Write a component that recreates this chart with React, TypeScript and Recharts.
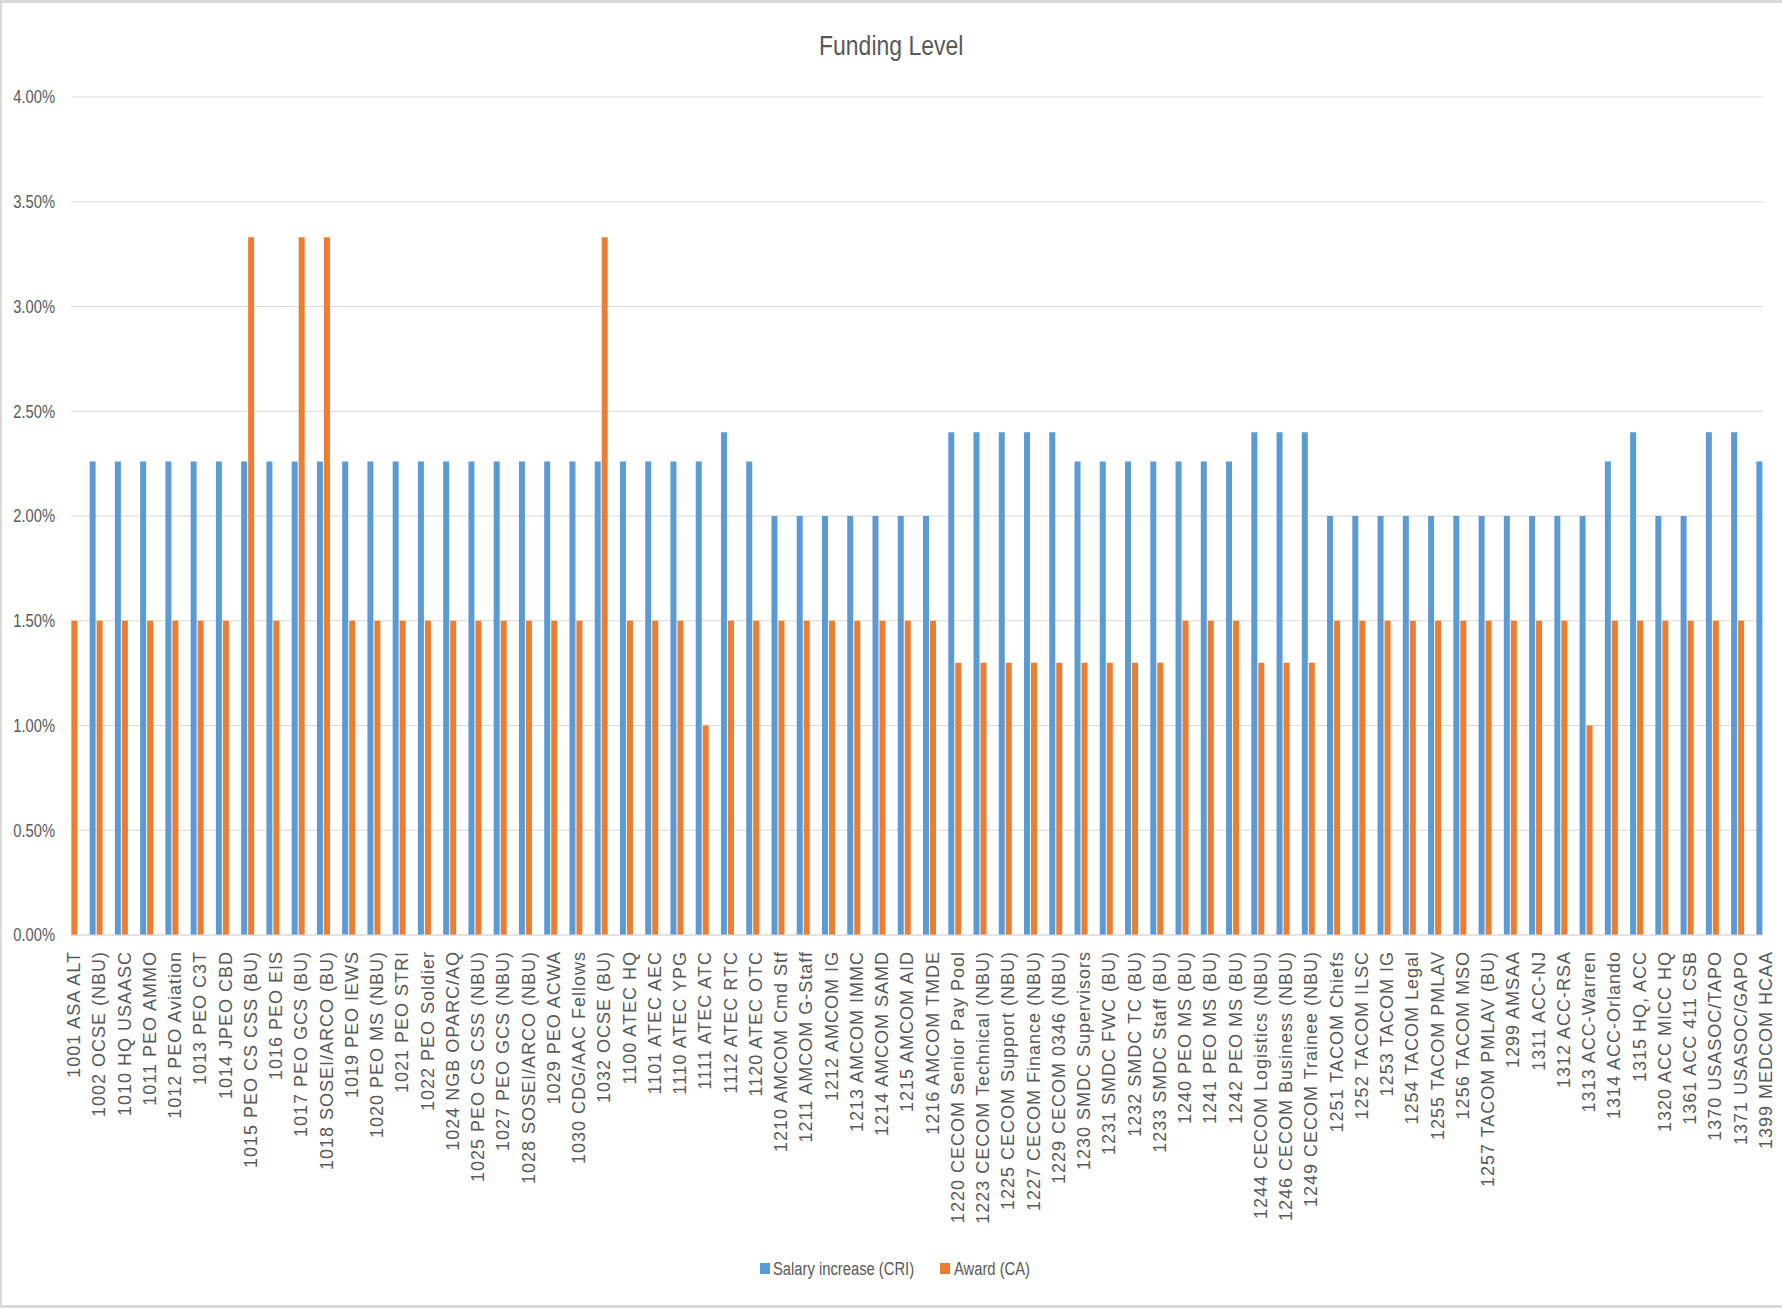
import React from 'react';
import { BarChart, Bar, XAxis, YAxis, CartesianGrid, Legend } from 'recharts';

const categories = [
  '1001 ASA ALT', '1002 OCSE (NBU)', '1010 HQ USAASC', '1011 PEO AMMO', '1012 PEO Aviation',
  '1013 PEO C3T', '1014 JPEO CBD', '1015 PEO CS CSS (BU)', '1016 PEO EIS', '1017 PEO GCS (BU)',
  '1018 SOSEI/ARCO (BU)', '1019 PEO IEWS', '1020 PEO MS (NBU)', '1021 PEO STRI', '1022 PEO Soldier',
  '1024 NGB OPARC/AQ', '1025 PEO CS CSS (NBU)', '1027 PEO GCS (NBU)', '1028 SOSEI/ARCO (NBU)', '1029 PEO ACWA',
  '1030 CDG/AAC Fellows', '1032 OCSE (BU)', '1100 ATEC HQ', '1101 ATEC AEC', '1110 ATEC YPG',
  '1111 ATEC ATC', '1112 ATEC RTC', '1120 ATEC OTC', '1210 AMCOM Cmd Stf', '1211 AMCOM G-Staff',
  '1212 AMCOM IG', '1213 AMCOM IMMC', '1214 AMCOM SAMD', '1215 AMCOM AID', '1216 AMCOM TMDE',
  '1220 CECOM Senior Pay Pool', '1223 CECOM Technical (NBU)', '1225 CECOM Support (NBU)', '1227 CECOM Finance (NBU)', '1229 CECOM 0346 (NBU)',
  '1230 SMDC Supervisors', '1231 SMDC FWC (BU)', '1232 SMDC TC (BU)', '1233 SMDC Staff (BU)', '1240 PEO MS (BU)',
  '1241 PEO MS (BU)', '1242 PEO MS (BU)', '1244 CECOM Logistics (NBU)', '1246 CECOM Business (NBU)', '1249 CECOM Trainee (NBU)',
  '1251 TACOM Chiefs', '1252 TACOM ILSC', '1253 TACOM IG', '1254 TACOM Legal', '1255 TACOM PMLAV',
  '1256 TACOM MSO', '1257 TACOM PMLAV (BU)', '1299 AMSAA', '1311 ACC-NJ', '1312 ACC-RSA',
  '1313 ACC-Warren', '1314 ACC-Orlando', '1315 HQ, ACC', '1320 ACC MICC HQ', '1361 ACC 411 CSB',
  '1370 USASOC/TAPO', '1371 USASOC/GAPO', '1399 MEDCOM HCAA',
];

// percent values
const salaryIncrease = [
  0, 2.26, 2.26, 2.26, 2.26, 2.26, 2.26, 2.26, 2.26, 2.26,
  2.26, 2.26, 2.26, 2.26, 2.26, 2.26, 2.26, 2.26, 2.26, 2.26,
  2.26, 2.26, 2.26, 2.26, 2.26, 2.26, 2.4, 2.26, 2.0, 2.0,
  2.0, 2.0, 2.0, 2.0, 2.0, 2.4, 2.4, 2.4, 2.4, 2.4,
  2.26, 2.26, 2.26, 2.26, 2.26, 2.26, 2.26, 2.4, 2.4, 2.4,
  2.0, 2.0, 2.0, 2.0, 2.0, 2.0, 2.0, 2.0, 2.0, 2.0,
  2.0, 2.26, 2.4, 2.0, 2.0, 2.4, 2.4, 2.26,
];

const award = [
  1.5, 1.5, 1.5, 1.5, 1.5, 1.5, 1.5, 3.33, 1.5, 3.33,
  3.33, 1.5, 1.5, 1.5, 1.5, 1.5, 1.5, 1.5, 1.5, 1.5,
  1.5, 3.33, 1.5, 1.5, 1.5, 1.0, 1.5, 1.5, 1.5, 1.5,
  1.5, 1.5, 1.5, 1.5, 1.5, 1.3, 1.3, 1.3, 1.3, 1.3,
  1.3, 1.3, 1.3, 1.3, 1.5, 1.5, 1.5, 1.3, 1.3, 1.3,
  1.5, 1.5, 1.5, 1.5, 1.5, 1.5, 1.5, 1.5, 1.5, 1.5,
  1.0, 1.5, 1.5, 1.5, 1.5, 1.5, 1.5, 0,
];

const yTicks = [0, 0.5, 1, 1.5, 2, 2.5, 3, 3.5, 4];

const BLUE = '#5b9bd5';
const ORANGE = '#ed7d31';
const GRAY = '#595959';
const LINE = '#d9d9d9';
const SANS = "'Liberation Sans', Arial, sans-serif";
// no Calibri here, so squeeze Liberation Sans horizontally
const SQUEEZE = 0.82;

// Excel "on tick marks" axis: first/last category centred on the plot edges,
// so use a numeric position axis instead of a band axis
const data = categories.map((name, i) => ({
  pos: i + 1,
  name,
  salary: salaryIncrease[i],
  award: award[i],
}));
const xTicks = data.map((d) => d.pos);

const CategoryTick = ({ x, y, payload }: any) => (
  <g transform={`translate(${x},${y + 16})`}>
    <text
      transform="rotate(-90)"
      textAnchor="end"
      dy="0.5em"
      fill={GRAY}
      fontSize={18}
      fontFamily={SANS}
      letterSpacing={1}
    >
      {categories[payload.value - 1]}
    </text>
  </g>
);

const ValueTick = ({ x, y, payload }: any) => (
  <g transform={`translate(${x},${y}) scale(${SQUEEZE},1)`}>
    <text x={0} y={0} dy="0.36em" textAnchor="end" fill={GRAY} fontSize={18} fontFamily={SANS}>
      {`${payload.value.toFixed(2)}%`}
    </text>
  </g>
);

const squeezed: React.CSSProperties = {
  position: 'absolute',
  top: 0,
  whiteSpace: 'nowrap',
  transform: `scaleX(${SQUEEZE})`,
  transformOrigin: 'left center',
  fontFamily: SANS,
  fontSize: 18,
  lineHeight: '22px',
  color: GRAY,
};

const LegendContent = () => (
  <div style={{ position: 'relative', height: 22 }}>
    <span style={{ position: 'absolute', left: 760, top: 5, width: 10, height: 11, background: BLUE }} />
    <span style={{ ...squeezed, left: 773 }}>Salary increase (CRI)</span>
    <span style={{ position: 'absolute', left: 940, top: 5, width: 10, height: 11, background: ORANGE }} />
    <span style={{ ...squeezed, left: 954 }}>Award (CA)</span>
  </div>
);

export default function App() {
  return (
    <div style={{ position: 'absolute', left: 0, top: 0, width: 1782, height: 1308, background: '#fff' }}>
      <div
        style={{
          position: 'absolute',
          top: 32,
          left: 0,
          width: 1782,
          textAlign: 'center',
          fontFamily: SANS,
          fontSize: 28,
          lineHeight: '28px',
          color: GRAY,
          transform: `scaleX(${SQUEEZE})`,
          transformOrigin: '892px 50%',
        }}
      >
        Funding Level
      </div>
      <BarChart
        width={1782}
        height={1308}
        data={data}
        margin={{ top: 97, right: 19, bottom: 73, left: 0 }}
        barSize={6}
        barGap={1}
      >
        <CartesianGrid horizontal vertical={false} stroke={LINE} />
        <XAxis
          dataKey="pos"
          type="number"
          scale="linear"
          domain={[1, 68]}
          ticks={xTicks}
          interval={0}
          height={300}
          tickLine={false}
          tickSize={0}
          tickMargin={0}
          axisLine={{ stroke: LINE }}
          tick={<CategoryTick />}
        />
        <YAxis
          domain={[0, 4]}
          ticks={yTicks}
          width={71}
          axisLine={false}
          tickLine={false}
          tickSize={0}
          tickMargin={16}
          tick={<ValueTick />}
        />
        <Legend
          verticalAlign="middle"
          align="center"
          width={1782}
          wrapperStyle={{ top: 1258, left: 0 }}
          content={<LegendContent />}
        />
        <Bar dataKey="salary" name="Salary increase (CRI)" fill={BLUE} isAnimationActive={false} />
        <Bar dataKey="award" name="Award (CA)" fill={ORANGE} isAnimationActive={false} />
      </BarChart>
      <div
        style={{
          position: 'absolute',
          left: 0,
          top: 0,
          width: 1782,
          height: 1308,
          boxSizing: 'border-box',
          borderTop: `3px solid ${LINE}`,
          borderLeft: `2px solid ${LINE}`,
          borderBottom: `3px solid ${LINE}`,
          pointerEvents: 'none',
        }}
      />
    </div>
  );
}
